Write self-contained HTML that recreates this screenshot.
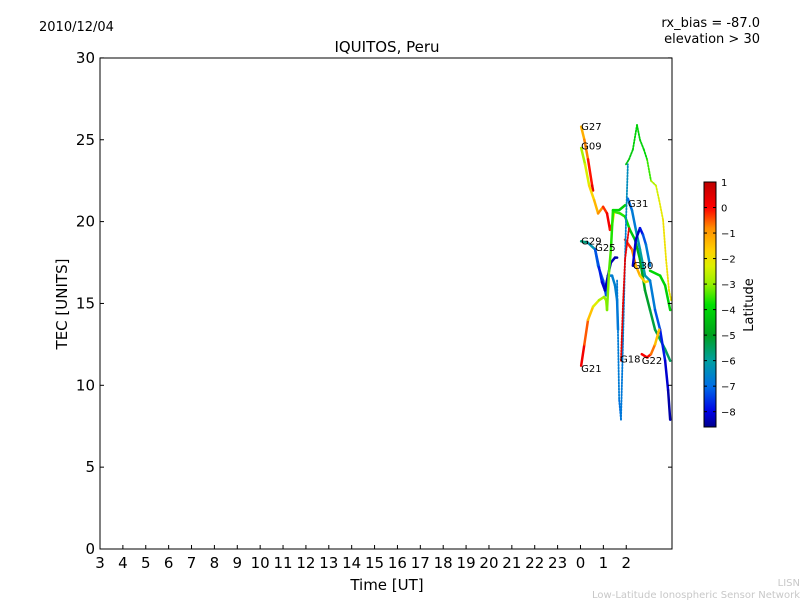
<!DOCTYPE html>
<html><head><meta charset="utf-8"><style>
body{margin:0;background:#fff;font-family:"DejaVu Sans","Liberation Sans",sans-serif}
svg{display:block}
</style></head><body>
<svg id="c" width="800" height="600" viewBox="0 0 800 600">
<rect width="800" height="600" fill="#fff"/>
<text x="39" y="31" font-size="13">2010/12/04</text>
<text x="760" y="27" font-size="13" text-anchor="end">rx_bias = -87.0</text>
<text x="760" y="43" font-size="13" text-anchor="end">elevation &gt; 30</text>
<text x="387" y="52" font-size="15" text-anchor="middle">IQUITOS, Peru</text>
<g id="plot"></g>
<rect x="100" y="58" width="572" height="491" fill="none" stroke="#000" stroke-width="1"/>
<g id="axes"></g>
<text x="387" y="590" font-size="15" text-anchor="middle">Time [UT]</text>
<text transform="translate(67,304) rotate(-90)" font-size="15" text-anchor="middle">TEC [UNITS]</text>
<defs><linearGradient id="jet" x1="0" y1="1" x2="0" y2="0"></linearGradient></defs>
<rect x="704" y="182" width="12" height="245" fill="url(#jet)" stroke="#000" stroke-width="1"/>
<g id="cb"></g>
<text transform="translate(753,305) rotate(-90)" font-size="13" text-anchor="middle">Latitude</text>
<text x="800" y="586" font-size="10" fill="#c8c8c8" text-anchor="end">LISN</text>
<text x="800" y="598" font-size="10" fill="#c8c8c8" text-anchor="end">Low-Latitude Ionospheric Sensor Network</text>
</svg>
<script>
const xTickLabels=["3","4","5","6","7","8","9","10","11","12","13","14","15","16","17","18","19","20","21","22","23","0","1","2"];
const yTicks=[0,5,10,15,20,25,30];
const cbTicks=[1,0,-1,-2,-3,-4,-5,-6,-7,-8];
const satNames=["G27","G09","G29","G25","G21","G31","G30","G18","G22"];
const g27T=[24.03,24.17,24.33,24.51,24.55],g27V=[25.8,25.0,23.8,22.2,21.9],g27L=[-1.5,-1,-0.5,0.3,0.5];
const g09T=[24.03,24.2,24.38,24.6,24.77,24.99,25.16,25.29,25.38,25.47,25.73,25.95,26.16,26.38,26.6,26.82,27.04,27.26,27.48,27.7,27.92],
g09V=[24.5,23.5,22.2,21.3,20.5,20.9,20.5,19.5,19.8,20.6,20.5,20.3,19.5,18.9,17.7,15.8,14.6,13.4,12.8,12.2,11.5],
g09L=[-3,-2.6,-2,-1.5,-1.2,-0.5,0,0.3,-0.5,-3.5,-3.5,-3.7,-4,-4.5,-4.8,-5,-5.2,-5.3,-5.4,-5.5,-5.5];
const g29T=[24.03,24.33,24.64,24.77,24.99,25.12,25.2,25.38,25.51,25.6,25.64],g29V=[18.8,18.7,18.3,17.3,16.4,15.5,16.7,16.7,16.1,15.2,13.4],g29L=[-5.5,-6,-6.5,-7,-7.2,-7.5,-7,-6.8,-6.5,-6.8,-7];
const g25T=[24.64,24.81,24.94,25.07,25.2,25.33,25.51,25.6],g25V=[18.3,17.2,16.3,15.8,16.7,17.5,17.8,17.8],g25L=[-7,-7.5,-8,-8.3,-8.3,-8.3,-8.4,-8.4];
const g21T=[24.03,24.17,24.33,24.55,24.81,25.03,25.12,25.16,25.25,25.33,25.42,25.69,25.95],g21V=[11.2,12.5,14.0,14.8,15.2,15.4,15.2,14.6,17.0,18.3,20.7,20.7,21.0],g21L=[0.3,0,-1,-2,-2.5,-3,-3,-3,-3.3,-3.5,-3.8,-4,-4.3];
const g31T=[26.07,26.25,26.42,26.6,26.82,27.04,27.26,27.48,27.7,27.83,27.92],g31V=[21.4,20.7,19.5,18.3,16.7,16.4,14.6,13.4,11.5,9.7,7.9],g31L=[-7,-7,-6.5,-6,-6,-6.5,-7,-7.5,-8,-8.3,-8.5];
const g30T=[26.29,26.42,26.6,26.73,26.86,27.04],g30V=[17.3,18.9,19.6,19.2,18.6,17.3],g30L=[-8,-8.3,-8.2,-7.5,-7,-6.5];
const orT=[25.95,26.25,26.42,26.6,26.82,27.04],orV=[18.9,18.3,17.3,16.7,16.3,16.4],orL=[0,-0.5,-1,-1.5,-1.8,-2];
const topT=[25.99,26.12,26.29,26.47,26.6,26.77,26.91,27.08,27.3,27.44,27.61,27.74,27.87,27.96],topV=[23.5,23.8,24.4,25.9,25.0,24.4,23.8,22.5,22.2,21.3,20.1,17.7,15.8,15.2],topL=[-4.5,-4.3,-4.2,-4,-4.2,-4,-4,-3,-2.5,-2.3,-2,-2,-2,-2];
const g18T=[25.6,25.69,25.77,25.86,25.99,26.07],g18V=[16.4,9.1,7.9,12.8,20.0,23.5],g18L=[-6.5,-7,-6.8,-6.8,-6.5,-6.3];
const redT=[25.77,25.86,25.95,26.12],redV=[11.5,15.0,17.7,19.6],redL=[0.5,0.4,0.3,0.2];
const g22T=[26.68,26.91,27.08,27.26,27.44],g22V=[11.9,11.7,11.9,12.5,13.4],g22L=[0,0.2,-0.3,-1,-2];
const grT=[27.04,27.48,27.7,27.92],grV=[17.0,16.7,16.1,14.6],grL=[-4,-4,-4,-4.2];

const X=t=>100+(t-3)*22.88, Y=v=>549-v*16.37, vmin=-8.6,vmax=1;
const CB=l=>427-(l-vmin)/(vmax-vmin)*245;
const stopL=[1,0,-0.8,-1.7,-2.3,-3,-3.8,-5,-6,-7,-8,-8.6];
const stopC=[[190,0,0],[255,0,0],[255,140,0],[255,210,0],[220,240,0],[150,240,0],[0,225,0],[0,160,30],[0,160,160],[0,110,230],[0,0,230],[0,0,140]];
function jet(l){l=Math.max(vmin,Math.min(vmax,l));
 for(let i=0;i<stopL.length-1;i++){if(l<=stopL[i]&&l>=stopL[i+1]){const f=(stopL[i]-l)/(stopL[i]-stopL[i+1]);
 const c=stopC[i].map((v,k)=>Math.round(v+(stopC[i+1][k]-v)*f));return `rgb(${c})`;}}
 return 'rgb(0,0,140)';}
const NS="http://www.w3.org/2000/svg";
function mk(tag,attrs,parent){const e=document.createElementNS(NS,tag);for(const k in attrs)e.setAttribute(k,attrs[k]);parent.appendChild(e);return e;}
const grad=document.getElementById('jet');
for(let i=stopL.length-1;i>=0;i--)mk('stop',{offset:(stopL[i]-vmin)/(vmax-vmin),'stop-color':`rgb(${stopC[i]})`},grad);
const plot=document.getElementById('plot'),axes=document.getElementById('axes'),cb=document.getElementById('cb');
function series(T,V,L,name,dash){for(let i=0;i<T.length-1;i++){const s=mk('line',{x1:X(T[i]),y1:Y(V[i]),x2:X(T[i+1]),y2:Y(V[i+1]),stroke:jet((L[i]+L[i+1])/2),'stroke-width':dash?1.8:2.5,'stroke-linecap':'round'},plot);
 if(dash)s.setAttribute('stroke-dasharray','1.5 1.5');
 
 }}
series(g27T,g27V,g27L,'g27');series(g09T,g09V,g09L,'g09');series(topT,topV,topL,'top-trace',true);
series(grT,grV,grL,'green-trace');series(g29T,g29V,g29L,'g29');series(g25T,g25V,g25L,'g25');
series(g21T,g21V,g21L,'g21');series(orT,orV,orL,'orange-trace');series(g18T,g18V,g18L,'g18',true);
series(redT,redV,redL,'red-trace',true);series(g31T,g31V,g31L,'g31');series(g30T,g30V,g30L,'g30');series(g22T,g22V,g22L,'g22');
const labPos=[[24.03,25.6],[24.03,24.4],[24.03,18.6],[24.64,18.2],[24.03,10.8],[26.07,20.9],[26.29,17.1],[25.73,11.4],[26.68,11.3]];
satNames.forEach((n,i)=>{const t=mk('text',{x:X(labPos[i][0]),y:Y(labPos[i][1]),'font-size':10},plot);t.textContent=n;
 
 });
xTickLabels.forEach((s,i)=>{const x=X(3+i);
 const l=mk('line',{x1:x,y1:549,x2:x,y2:545,stroke:'#000'},axes);
 
 
 const t=mk('text',{x:x,y:568,'font-size':15,'text-anchor':'middle'},axes);t.textContent=s;
 
 });
yTicks.forEach(v=>{const y=Y(v);
 const l=mk('line',{x1:100,y1:y,x2:104,y2:y,stroke:'#000'},axes);
 
 
 mk('line',{x1:668,y1:y,x2:672,y2:y,stroke:'#000'},axes);
 const t=mk('text',{x:95,y:y+5,'font-size':15,'text-anchor':'end'},axes);t.textContent=v;
 
 });
cbTicks.forEach(v=>{const y=CB(v);
 mk('line',{x1:704,y1:y,x2:707,y2:y,stroke:'#000'},cb);mk('line',{x1:713,y1:y,x2:716,y2:y,stroke:'#000'},cb);
 const t=mk('text',{x:721,y:y+4,'font-size':10},cb);t.textContent=v<0?'\u2212'+(-v):v;
 
 });
</script>
</body></html>
